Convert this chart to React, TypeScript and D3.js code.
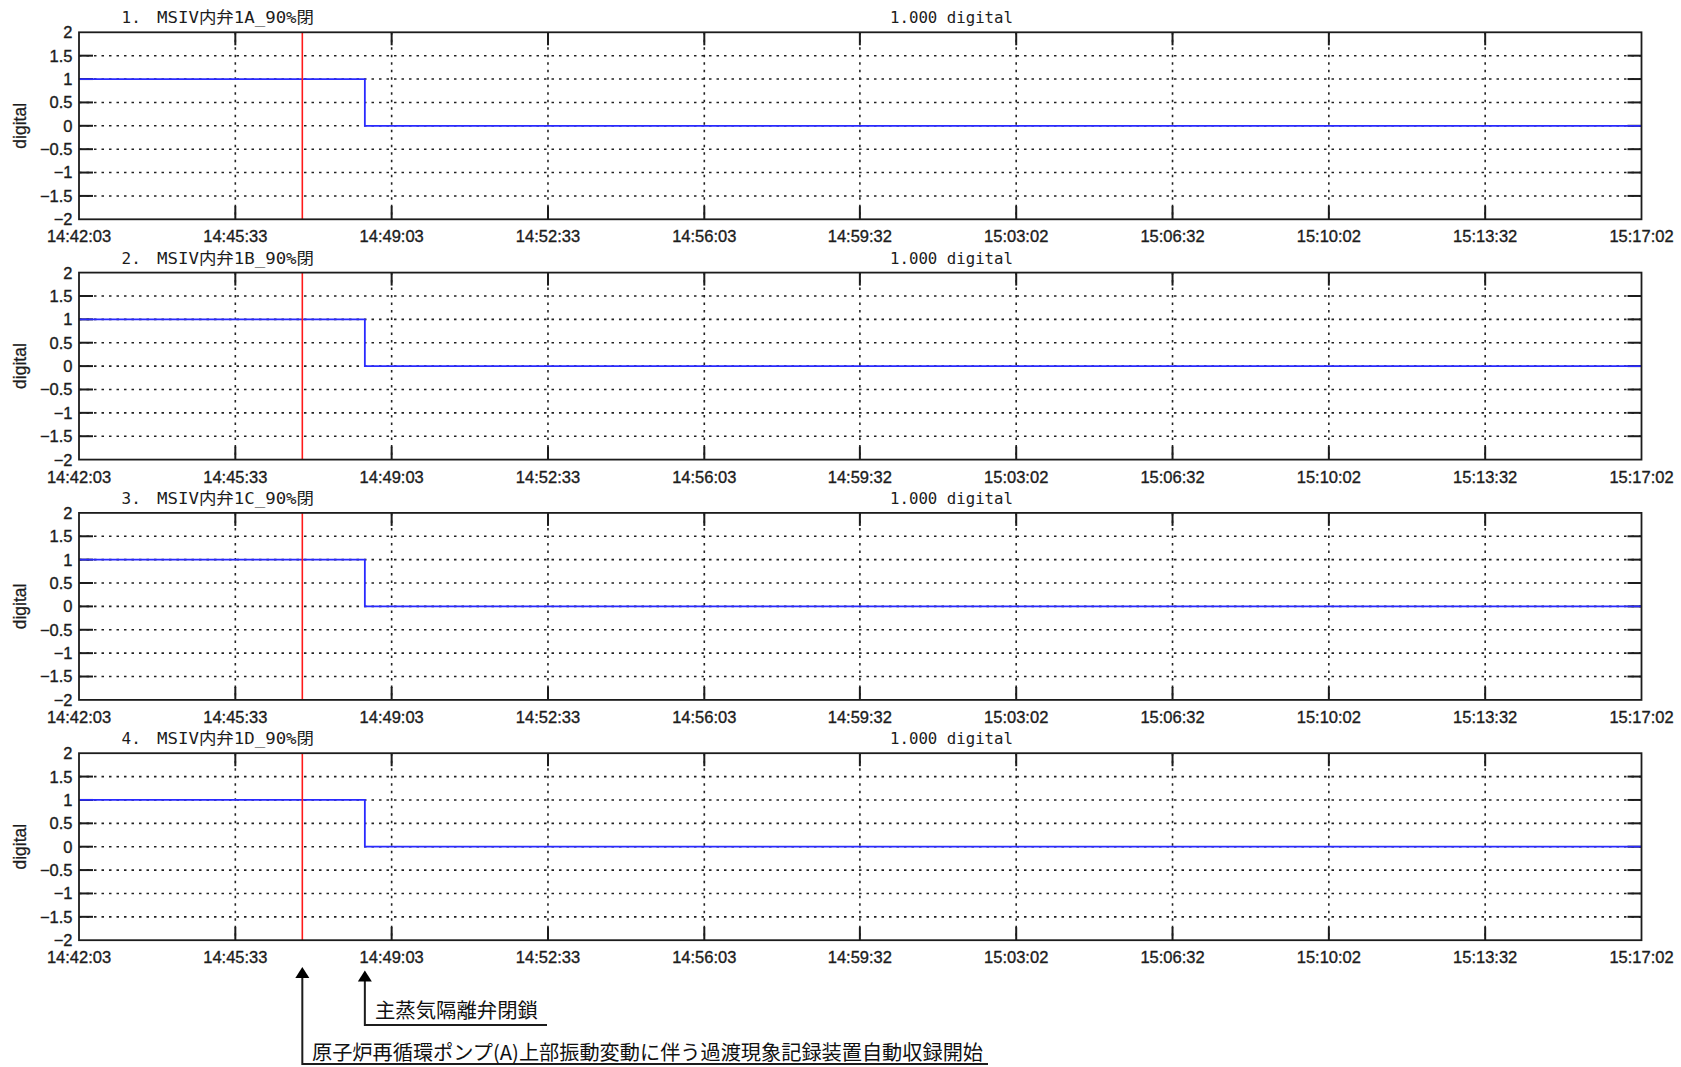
import * as d3 from 'd3';

// channel names, one panel each
const panelTitles = ['MSIV内弁1A_90%閉', 'MSIV内弁1B_90%閉', 'MSIV内弁1C_90%閉', 'MSIV内弁1D_90%閉'];
const panelUnits = ['1.000 digital', '1.000 digital', '1.000 digital', '1.000 digital'];

// time axis tick labels (hh:mm:ss)
const xTickLabels = [
  '14:42:03', '14:45:33', '14:49:03', '14:52:33', '14:56:03', '14:59:32',
  '15:03:02', '15:06:32', '15:10:02', '15:13:32', '15:17:02'
];
const yTicks = [-2, -1.5, -1, -0.5, 0, 0.5, 1, 1.5, 2];

// step signal samples (value holds until next time)
const sampleTimes = ['14:42:03', '14:48:27', '15:17:02'];
const valve1A = [1, 0, 0];
const valve1B = [1, 0, 0];
const valve1C = [1, 0, 0];
const valve1D = [1, 0, 0];
const panelSeries = [valve1A, valve1B, valve1C, valve1D];

// event markers
const recorderStart = '14:47:03';
const msivClosed = '14:48:27';
const recorderLabel = '原子炉再循環ポンプ(A)上部振動変動に伴う過渡現象記録装置自動収録開始';
const msivLabel = '主蒸気隔離弁閉鎖';

const toSec = (s: string) => {
  const [h, m, sec] = s.split(':').map(Number);
  return h * 3600 + m * 60 + sec;
};

const W = 1681;
const H = 1067;
const left = 79;
const right = 1641.5;
const firstTop = 32.3;
const panelStep = 240.3;
const plotH = 187;
const tickLen = 14;
const ink = '#1c1c1c';
const numFont = "'Liberation Sans', Arial, sans-serif";
const monoFont = "'DejaVu Sans Mono', 'Noto Sans CJK JP', monospace";
const cjkFont = "'Noto Sans CJK JP', sans-serif";

const x = d3.scaleLinear()
  .domain([toSec(xTickLabels[0]), toSec(xTickLabels[xTickLabels.length - 1])])
  .range([left, right]);

const fmtY = d3.format('');

const Panel = ({ idx }: { idx: number }) => {
  const top = firstTop + idx * panelStep;
  const y = d3.scaleLinear().domain([-2, 2]).range([top + plotH, top]);
  const pts = sampleTimes.map((t, i) => [toSec(t), panelSeries[idx][i]] as [number, number]);
  const line = d3.line<[number, number]>()
    .x(d => x(d[0]))
    .y(d => y(d[1]))
    .curve(d3.curveStepAfter);
  const inner = yTicks.slice(1, -1);
  const innerX = xTickLabels.slice(1, -1);

  return (
    <g>
      {/* grid */}
      {inner.map(v => (
        <line key={'gy' + v} x1={left} x2={right} y1={y(v)} y2={y(v)}
          stroke="#222" strokeWidth={1.6} strokeDasharray="2.5,5" />
      ))}
      {innerX.map(t => (
        <line key={'gx' + t} x1={x(toSec(t))} x2={x(toSec(t))} y1={top} y2={top + plotH}
          stroke="#222" strokeWidth={1.6} strokeDasharray="2.5,5" />
      ))}
      {/* ticks */}
      {inner.map(v => (
        <g key={'ty' + v}>
          <line x1={left} x2={left + tickLen} y1={y(v)} y2={y(v)} stroke={ink} strokeWidth={2} />
          <line x1={right - tickLen} x2={right} y1={y(v)} y2={y(v)} stroke={ink} strokeWidth={2} />
        </g>
      ))}
      {innerX.map(t => (
        <g key={'tx' + t}>
          <line x1={x(toSec(t))} x2={x(toSec(t))} y1={top} y2={top + tickLen - 1} stroke={ink} strokeWidth={2} />
          <line x1={x(toSec(t))} x2={x(toSec(t))} y1={top + plotH - tickLen + 1} y2={top + plotH} stroke={ink} strokeWidth={2} />
        </g>
      ))}
      {/* data */}
      <path d={line(pts) || ''} fill="none" stroke="#2a2aff" strokeWidth={1.8} />
      <line x1={x(toSec(recorderStart))} x2={x(toSec(recorderStart))} y1={top} y2={top + plotH}
        stroke="#ff1a1a" strokeWidth={1.6} />
      {/* frame */}
      <rect x={left} y={top} width={right - left} height={plotH} fill="none" stroke={ink} strokeWidth={1.8} />
      {/* tick labels */}
      {yTicks.map(v => (
        <text key={'ly' + v} x={72.5} y={y(v)} dy="0.36em" textAnchor="end"
          fontFamily={numFont} fontSize={16.5} fill={ink} stroke={ink} strokeWidth={0.35}>{fmtY(v)}</text>
      ))}
      {xTickLabels.map(t => (
        <text key={'lx' + t} x={x(toSec(t))} y={top + plotH + 23} textAnchor="middle"
          fontFamily={numFont} fontSize={16.5} fill={ink} stroke={ink} strokeWidth={0.35}>{t}</text>
      ))}
      <text transform={`translate(${26},${top + plotH / 2}) rotate(-90)`} textAnchor="middle"
        fontFamily={numFont} fontSize={17.5} fill={ink} stroke={ink} strokeWidth={0.3}>digital</text>
      {/* titles */}
      <text x={121.5} y={top - 9} fontFamily={monoFont} fontSize={16} fill={ink}>{`${idx + 1}.`}</text>
      <text x={157} y={top - 9} fontFamily={monoFont} fontSize={16} fill={ink}
        textLength={157} lengthAdjust="spacingAndGlyphs">{panelTitles[idx]}</text>
      <text x={890} y={top - 9} fontFamily={monoFont} fontSize={16} fill={ink}
        textLength={123} lengthAdjust="spacingAndGlyphs">{panelUnits[idx]}</text>
    </g>
  );
};

const Arrow = ({ xPos, tipY, baseY, endX }: { xPos: number; tipY: number; baseY: number; endX: number }) => (
  <g>
    <path d={`M${xPos},${tipY + 8} L${xPos},${baseY} L${endX},${baseY}`} fill="none" stroke={ink} strokeWidth={2} />
    <path d={`M${xPos},${tipY} L${xPos - 7},${tipY + 11} L${xPos + 7},${tipY + 11} Z`} fill="#000" />
  </g>
);

export default function App() {
  const xr = x(toSec(recorderStart));
  const xm = x(toSec(msivClosed));
  return (
    <svg width={W} height={H} style={{ position: 'absolute', left: 0, top: 0, background: '#fff' }}>
      <rect width={W} height={H} fill="#fff" />
      {panelTitles.map((_, i) => <Panel key={i} idx={i} />)}
      <Arrow xPos={xr} tipY={967} baseY={1064} endX={988} />
      <Arrow xPos={xm} tipY={970.5} baseY={1025} endX={547} />
      <text x={375} y={1018} fontFamily={cjkFont} fontSize={20} fill="#111"
        textLength={163} lengthAdjust="spacingAndGlyphs">{msivLabel}</text>
      <text x={312} y={1059.5} fontFamily={cjkFont} fontSize={20} fill="#111"
        textLength={671} lengthAdjust="spacingAndGlyphs">{recorderLabel}</text>
    </svg>
  );
}
